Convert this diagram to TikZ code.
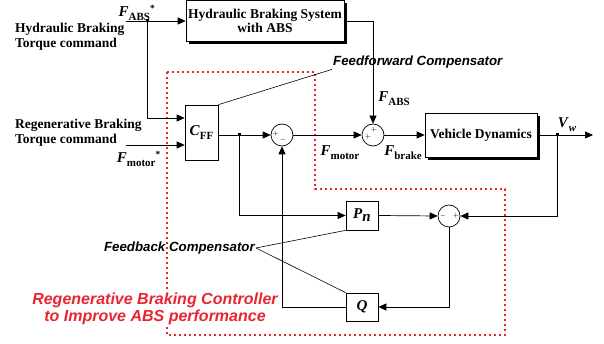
\documentclass[tikz,border=0pt]{standalone}
\usepackage{fontspec}
\setmainfont{Liberation Serif}
\setsansfont{Liberation Sans}
\usetikzlibrary{arrows.meta,shadows,calc}

\definecolor{ctrlred}{RGB}{232,38,48}

% signal names: bold italic letter, bold upright index
\newcommand{\sig}[2]{{\fontsize{15}{16}\selectfont\textbf{\textit{#1}}}\raisebox{-0.5ex}{\fontsize{11}{12}\selectfont\bfseries #2}}

\tikzset{
  txt/.style={font=\fontsize{13.5}{15}\selectfont\bfseries, inner sep=1pt},
  block/.style={draw, fill=white, inner sep=0pt, align=center, line width=0.7pt,
    font=\fontsize{13.5}{14}\selectfont\bfseries},
  shadowed/.style={drop shadow={shadow xshift=3pt, shadow yshift=-3pt, opacity=1, fill=black}},
  sumnode/.style={draw, circle, fill=white, minimum size=22pt, inner sep=0pt, line width=0.7pt},
  sign/.style={font=\scriptsize\bfseries, inner sep=0pt},
  dot/.style={fill, rectangle, minimum size=3pt, inner sep=0pt},
  tag/.style={font=\fontsize{13.3}{15}\selectfont\sffamily\bfseries\itshape, inner sep=1pt},
  sigline/.style={line width=0.7pt, -{Triangle[length=8pt,width=7pt]}},
}

\begin{document}
\begin{tikzpicture}[x=1pt, y=-1pt]
    \useasboundingbox (0,0) rectangle (604,344);

    % Controller region
    \draw[ctrlred, line width=1.6pt, dash pattern=on 2pt off 3pt]
        (167,72) -- (315,72) -- (315,189) -- (505,189) -- (505,335) -- (167,335) -- cycle;

    % Blocks
    \node[block, shadowed, minimum width=158pt, minimum height=41pt] (hyd) at (265,21)
        {Hydraulic Braking System\\with ABS};
    \node[block, minimum width=33pt, minimum height=55pt] (cff) at (201.5,132.5) {\sig{C}{FF}};
    \node[block, shadowed, minimum width=112pt, minimum height=44pt] (veh) at (481,135)
        {Vehicle Dynamics};
    \node[block, minimum width=32pt, minimum height=29pt] (pn) at (362,215.5)
        {{\fontsize{15}{16}\selectfont\textbf{\textit{P}}}\raisebox{-0.5ex}{\fontsize{15}{16}\selectfont\textbf{\textit{n}}}};
    \node[block, minimum width=32pt, minimum height=28pt] (q) at (362,307)
        {\fontsize{15}{16}\selectfont\textbf{\textit{Q}}};

    % Summing points
    \node[sumnode] (s1) at (282,135) {};
    \node[sign] at (275.5,134) {$+$};
    \node[sign] at (283,140) {$-$};
    \node[sumnode] (s2) at (373,135) {};
    \node[sign] at (368,137) {$+$};
    \node[sign] at (374,130) {$+$};
    \node[sumnode] (s3) at (449,216) {};
    \node[sign] at (443,216) {$-$};
    \node[sign] at (456,216) {$+$};

    % Branch points and loose ends
    \coordinate (habs) at (126,21);
    \coordinate (hmot) at (126,145);
    \coordinate (vout) at (593,135);
    \node[dot] (j1) at (147,21) {};
    \node[dot] (j2) at (239,135) {};
    \node[dot] (j3) at (557,135) {};

    % Feedforward path
    \draw[sigline] (habs) -- (hyd.west);
    \draw[sigline] (j1.center) |- ($(cff.west)+(0,-14.5)$);
    \draw[sigline] (hmot) -- ($(cff.west)+(0,12.5)$);
    \draw[line width=0.7pt] ($(cff.east)+(0,2.5)$) -- (j2.center);
    \draw[sigline] (j2.center) -- (s1.west);
    \draw[sigline] (s1.east) -- (s2.west);
    \draw[sigline] (hyd.east) -| (s2.north);
    \draw[sigline] (s2.east) -- (veh.west);
    \draw[sigline] (veh.east) -- (vout);

    % Feedback path
    \draw[sigline] (j2.center) |- (pn.west);
    \draw[sigline] (pn.east) -- (s3.west);
    \draw[sigline] (j3.center) |- (s3.east);
    \draw[sigline] (s3.south) |- (q.east);
    \draw[sigline] (q.west) -| (s1.south);

    % Signal labels
    \node[txt, anchor=base] (labs) at (137,17) {\sig{F}{ABS}\textsuperscript{*}};
    \node[txt, anchor=base east] (lmot) at (162,163) {\sig{F}{motor}\textsuperscript{*}};
    \node[txt, anchor=base] (lfabs) at (394,102) {\sig{F}{ABS}};
    \node[txt, anchor=base] (lfmot) at (340,156) {\sig{F}{motor}};
    \node[txt, anchor=base] (lfbrk) at (403,156) {\sig{F}{brake}};
    \node[txt, anchor=base] (lvw) at (567,128)
        {{\fontsize{15}{16}\selectfont\textbf{\textit{V}}}\raisebox{-0.5ex}{\fontsize{11}{12}\selectfont\textbf{\textit{w}}}};

    % Inputs
    \node[txt, anchor=west, align=left] (hcmd) at (14,37) {Hydraulic Braking\\Torque command};
    \node[txt, anchor=west, align=left] (rcmd) at (14,133) {Regenerative Braking\\Torque command};

    % Compensator tags
    \node[tag, anchor=west] (ff) at (332,62) {Feedforward Compensator};
    \draw[line width=0.6pt] (cff.north east) -- (ff.south west);
    \node[tag, anchor=east] (fb) at (256,248) {Feedback Compensator};
    \draw[line width=0.6pt] (fb.east) -- (pn.south west);
    \draw[line width=0.6pt] (fb.east) -- (q.north west);

    % Controller name
    \node[font=\fontsize{16}{17.5}\selectfont\sffamily\bfseries\itshape, text=ctrlred,
        fill=white, align=center, inner sep=1pt] (ctrl) at (155,309)
        {Regenerative Braking Controller\\to Improve ABS performance};

\end{tikzpicture}
\end{document}
